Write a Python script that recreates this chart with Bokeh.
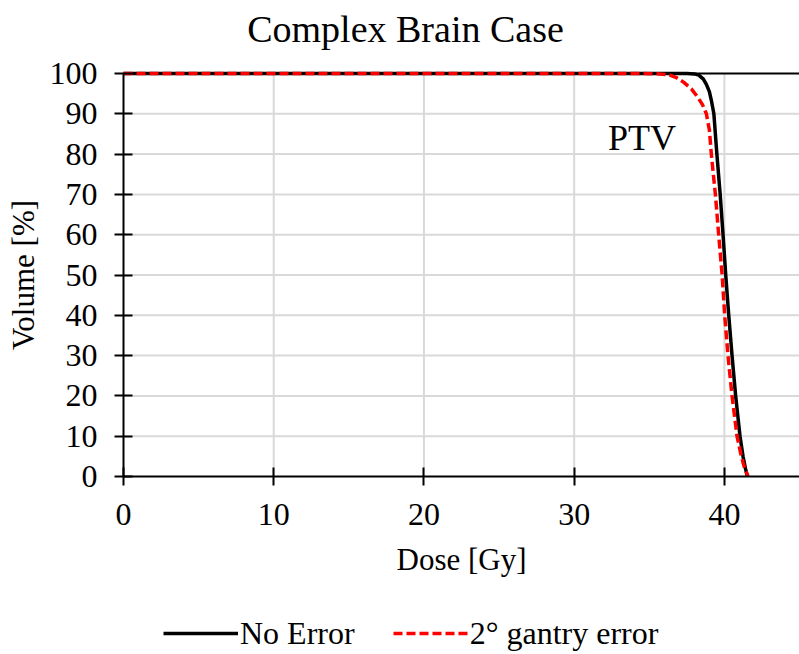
from bokeh.plotting import figure
from bokeh.models import Range1d, FixedTicker, Legend, LegendItem, Label
from bokeh.embed import file_html
from bokeh.resources import INLINE

# ---- data ----
dose_no_error = [0, 30, 37.5, 38.0, 38.3, 38.6, 38.8, 39.0, 39.15, 39.3, 39.5, 39.72, 39.91, 40.09, 40.29, 40.51, 40.75, 41.04, 41.24, 41.4, 41.53]
vol_no_error = [100, 100, 100, 99.9, 99.6, 98.6, 97.3, 95.5, 93, 90, 80, 70, 60, 50, 40, 30, 20, 10, 5, 2, 0]

dose_gantry = [0, 34.5, 35.5, 36.3, 36.8, 37.3, 37.8, 38.25, 38.55, 38.8, 39.0, 39.13, 39.4, 39.62, 39.85, 40.02, 40.24, 40.51, 40.84, 41.13, 41.35, 41.58]
vol_gantry = [100, 100, 99.95, 99.7, 99.0, 97.8, 96.2, 94, 92.2, 90, 86, 80, 70, 60, 50, 40, 30, 20, 10, 5, 2, 0]

x_ticks = [0, 10, 20, 30, 40]
y_ticks = [0, 10, 20, 30, 40, 50, 60, 70, 80, 90, 100]
x_axis_max = 45
y_axis_max = 100

title_text = "Complex Brain Case"
x_label = "Dose [Gy]"
y_label = "Volume [%]"
series_names = ["No Error", "2° gantry error"]
annotation_text = "PTV"
annotation_pos = (32.25, 84.0)

FONT = "Liberation Serif"

# ---- layout (pixels) ----
W, H = 799, 654
PLOT_LEFT, PLOT_TOP, PLOT_BOTTOM = 123, 73, 476
sx = (W - PLOT_LEFT) / x_axis_max          # px per Gy
sy = (PLOT_BOTTOM - PLOT_TOP) / y_axis_max  # px per %
x_range = Range1d(-PLOT_LEFT / sx, x_axis_max)
y_range = Range1d(-(H - PLOT_BOTTOM) / sy, y_axis_max + PLOT_TOP / sy)

p = figure(width=W, height=H, output_backend="svg", toolbar_location=None,
           x_range=x_range, y_range=y_range,
           min_border=0, min_border_left=0, min_border_right=0,
           min_border_top=0, min_border_bottom=0)
p.outline_line_color = None
p.background_fill_color = "white"
p.border_fill_color = "white"
p.grid.visible = False

# axes fixed at the data origin, limited to the data area
p.xaxis.fixed_location = 0
p.yaxis.fixed_location = 0
p.xaxis.bounds = (0, x_axis_max)
p.yaxis.bounds = (0, y_axis_max)
for ax in (p.xaxis[0], p.yaxis[0]):
    ax.axis_label_text_font = FONT
    ax.axis_label_text_font_style = "normal"
    ax.axis_label_text_font_size = "31px"
    ax.major_label_text_font = FONT
    ax.major_label_text_font_size = "32px"
    ax.major_label_text_color = "black"
    ax.axis_label_text_color = "black"
    ax.axis_line_color = "black"
    ax.axis_line_width = 2
    ax.major_tick_line_color = "black"
    ax.major_tick_line_width = 2
    ax.major_tick_in = 9
    ax.major_tick_out = 9
    ax.minor_tick_line_color = None
p.xaxis.axis_label = x_label
p.yaxis.axis_label = y_label
p.xaxis.ticker = FixedTicker(ticks=x_ticks)
p.yaxis.ticker = FixedTicker(ticks=y_ticks)
p.xaxis.major_label_standoff = 18
p.xaxis.axis_label_standoff = 14
p.yaxis.major_label_standoff = 17
p.yaxis.axis_label_standoff = 6

# gridlines (from the tick lists)
gx = x_ticks[1:]
gy = y_ticks[1:-1]
p.segment(x0=gx, y0=[y_ticks[0]] * len(gx), x1=gx, y1=[y_axis_max] * len(gx),
          line_color="#d9d9d9", line_width=2)
p.segment(x0=[x_ticks[0]] * len(gy), y0=gy, x1=[x_axis_max] * len(gy), y1=gy,
          line_color="#d9d9d9", line_width=2)
# top border line at 100 %
p.segment(x0=[x_ticks[0]], y0=[y_axis_max], x1=[x_axis_max], y1=[y_axis_max],
          line_color="black", line_width=2)

r1 = p.line(dose_no_error, vol_no_error, line_color="black", line_width=3.5, line_join="round")
r2 = p.line(dose_gantry, vol_gantry, line_color="#ff0000", line_width=3.5, line_dash="9 4", line_join="round")

p.add_layout(Label(x=annotation_pos[0], y=annotation_pos[1], text=annotation_text, text_font=FONT,
                   text_font_size="36px", text_color="black", text_baseline="middle"))

p.add_layout(Label(x=405, y=H - 28, x_units="screen", y_units="screen", text=title_text,
                   text_font=FONT, text_font_size="38px", text_color="black",
                   text_align="center", text_baseline="middle"))

legend = Legend(items=[LegendItem(label=series_names[0], renderers=[r1]),
                       LegendItem(label=series_names[1], renderers=[r2])],
                orientation="horizontal", location=(163, 1),
                label_text_font=FONT, label_text_font_size="32px", label_text_color="black",
                glyph_width=75, glyph_height=40, label_height=40, label_standoff=2, spacing=38,
                border_line_color=None, background_fill_alpha=0, padding=0, margin=0)
p.add_layout(legend)

open("out.html", "w").write(file_html(p, INLINE))
